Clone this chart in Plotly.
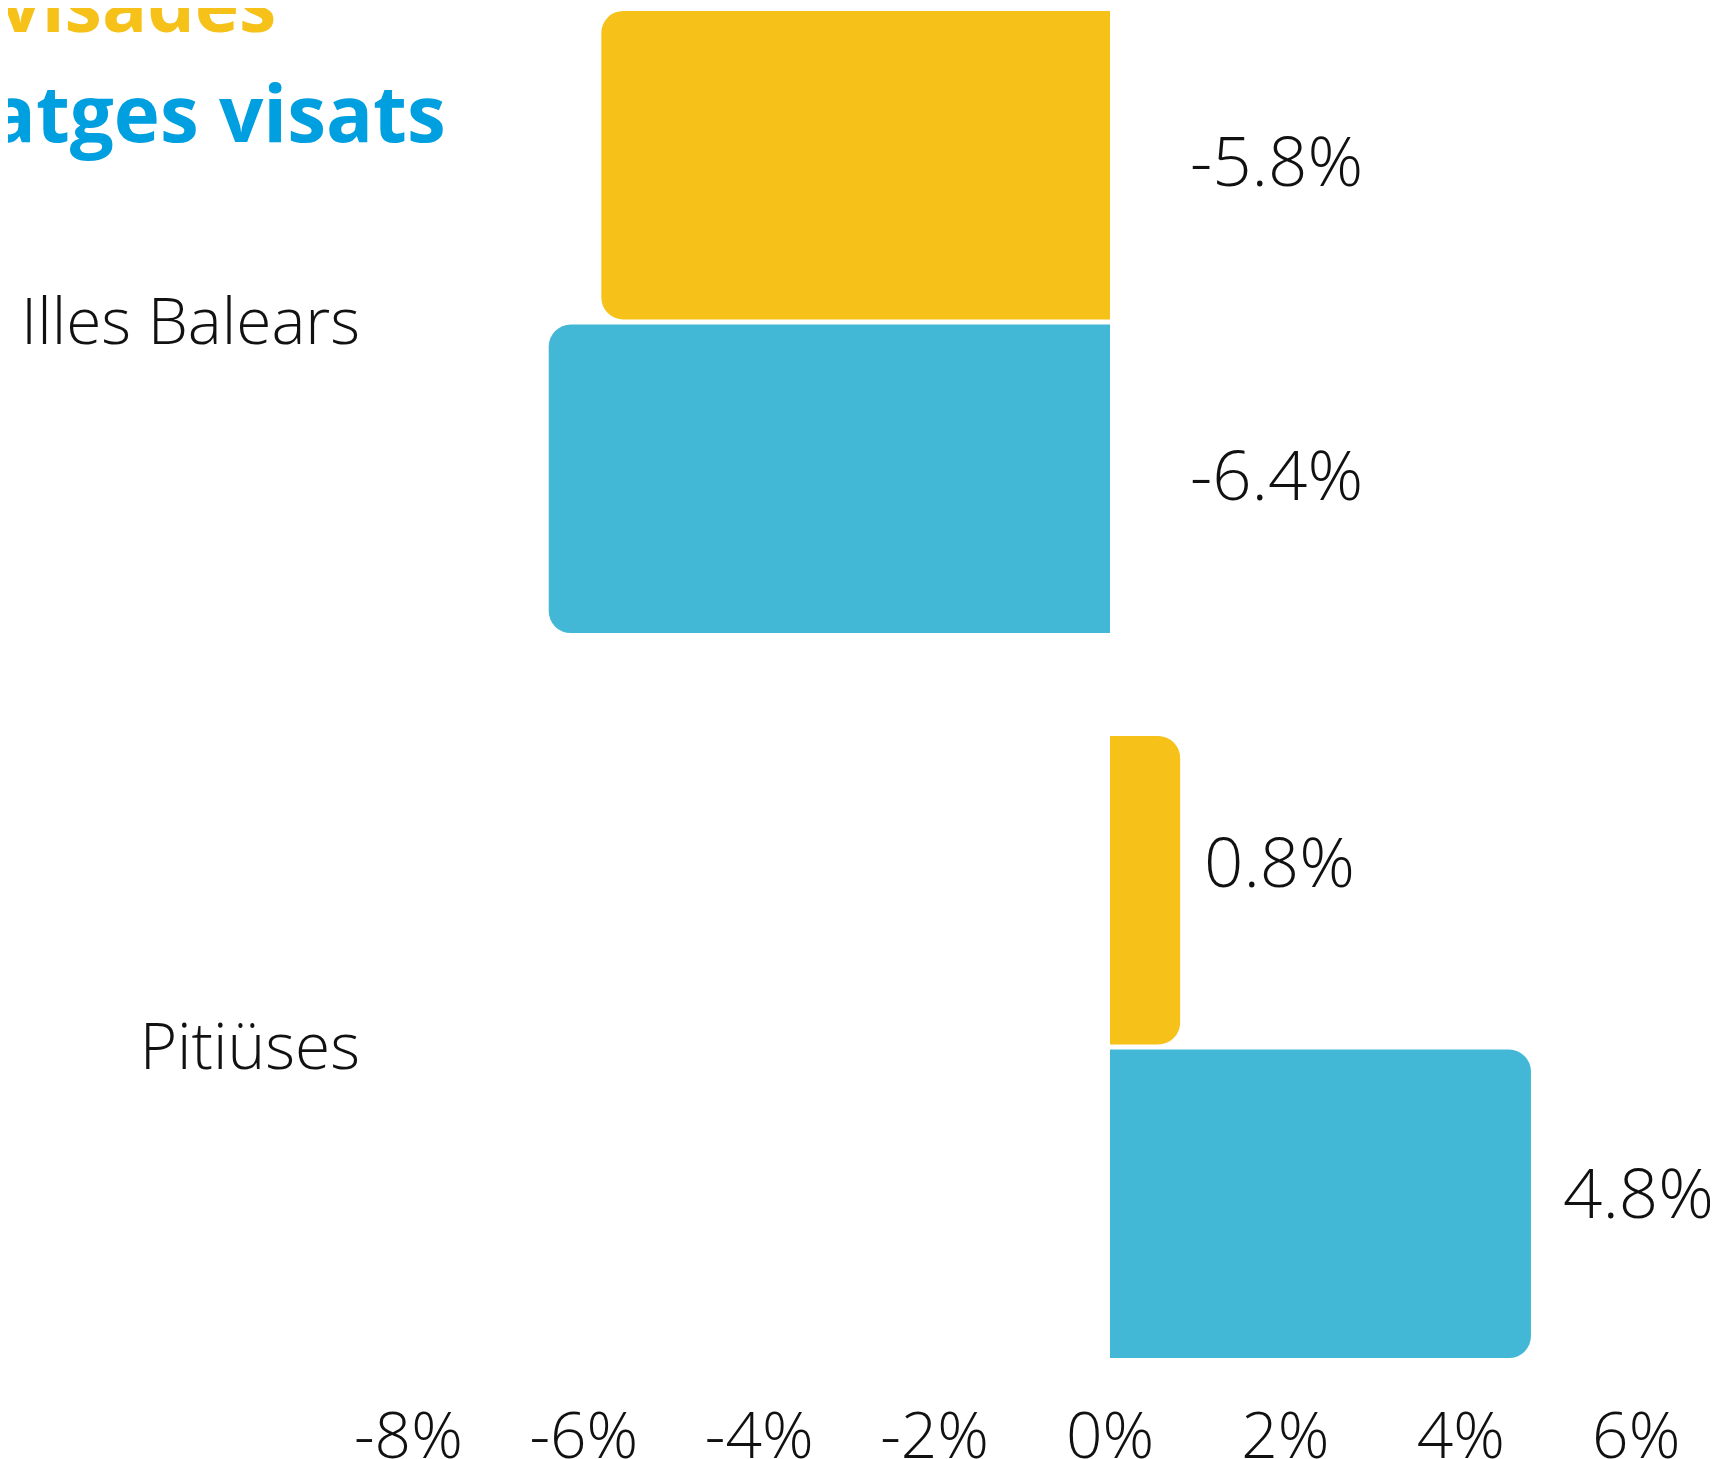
import plotly.graph_objects as go

categories = ["Illes Balears", "Pitiüses"]
series_names = ["Obres visades", "Habitatges visats"]
yellow_values = [-5.8, 0.8]
blue_values = [-6.4, 4.8]
x_tick_values = [-8, -6, -4, -2, 0, 2, 4, 6]
x_tick_labels = ["-8%", "-6%", "-4%", "-2%", "0%", "2%", "4%", "6%"]
title_yellow = "Superfície d'obres visades"
title_blue = "Habitatges visats"

YELLOW = "#F6C119"
BLUE = "#42B7D6"
TITLE_BLUE = "#009FE0"
FONT = "Open Sans"

# page has an 8px body margin, so the figure is sized to the visible area
W, H = 1710, 1451
ML, MR, MT, MB = 353, 10, 0, 66
BARGAP = 0.135
BARGROUPGAP = 0.016
PX_PER_UNIT = 87.7
ZERO_X = 1102

# small label nudges (px) per series / category, as in the original layout
LABEL_YSHIFT = [[6, 30], [6, 13]]

fig = go.Figure()
for name, vals, col in [(series_names[0], yellow_values, YELLOW),
                        (series_names[1], blue_values, BLUE)]:
    fig.add_trace(go.Bar(
        y=categories, x=vals, orientation="h", name=name,
        marker=dict(color=col, cornerradius=22, line=dict(width=0)),
        showlegend=False, hoverinfo="skip",
    ))

# value labels
slot = (1 - BARGAP) / 2
for k, vals in enumerate([yellow_values, blue_values]):
    off = (k - 0.5) * slot
    for i, v in enumerate(vals):
        fig.add_annotation(
            x=max(v, 0), y=i + off, xref="x", yref="y",
            text=f"{v:.1f}%", showarrow=False,
            xanchor="left", yanchor="middle",
            xshift=78 if v < 0 else 20 + 2.0 * v,
            yshift=LABEL_YSHIFT[k][i],
            font=dict(family=FONT, size=69, color="#111111", weight=300),
        )

plot_w = W - ML - MR
plot_h = H - MT - MB
# titles (partially cropped at the top-left like the reference)
fig.add_annotation(xref="paper", yref="paper", x=(270 - ML) / plot_w, y=1 - (-5 - MT) / plot_h,
                   text=title_yellow, showarrow=False, xanchor="right", yanchor="middle",
                   font=dict(family=FONT, size=75, color=YELLOW, weight=700))
fig.add_annotation(xref="paper", yref="paper", x=(440 - ML) / plot_w, y=1 - (104 - MT) / plot_h,
                   text=title_blue, showarrow=False, xanchor="right", yanchor="middle",
                   font=dict(family=FONT, size=78, color=TITLE_BLUE, weight=700))

x_lo = (ML - ZERO_X) / PX_PER_UNIT
x_hi = (W - MR - ZERO_X) / PX_PER_UNIT

fig.update_layout(
    width=W, height=H,
    margin=dict(l=ML, r=MR, t=MT, b=MB, autoexpand=False),
    paper_bgcolor="white", plot_bgcolor="white",
    barmode="group", bargap=BARGAP, bargroupgap=BARGROUPGAP,
    font=dict(family=FONT, color="#111111"),
    xaxis=dict(range=[x_lo, x_hi], tickvals=x_tick_values, ticktext=x_tick_labels,
               showgrid=False, zeroline=False, showline=False, ticks="",
               tickfont=dict(family=FONT, size=64, color="#111111", weight=300)),
    yaxis=dict(range=[1.4772, -0.4331], showgrid=False, zeroline=False, showline=False,
               ticks="", tickfont=dict(family=FONT, size=64, color="#111111", weight=300)),
)

fig.write_html("out.html")
